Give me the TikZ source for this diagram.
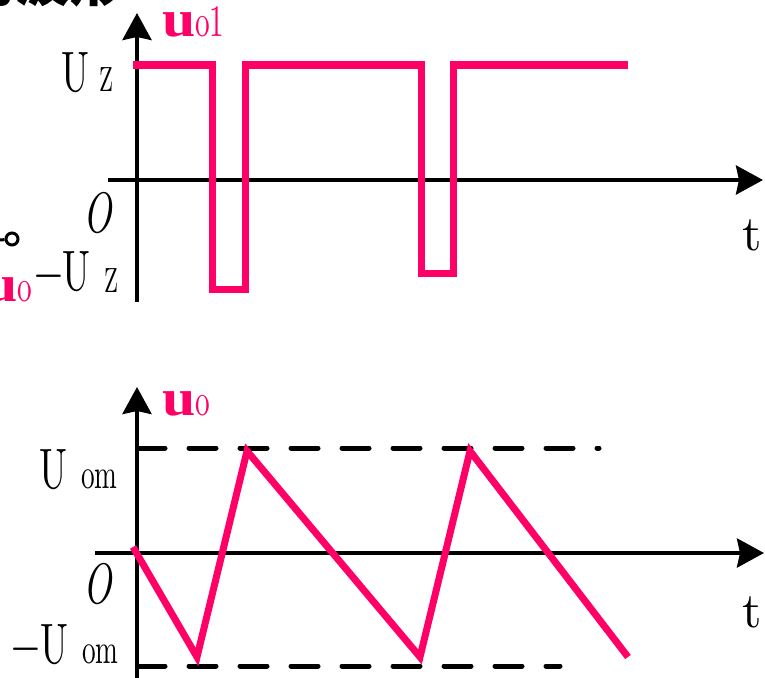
\documentclass[tikz,border=0pt]{standalone}
\usepackage{fontspec}
\usetikzlibrary{arrows.meta}
\newfontfamily\labfont[Extension=.otf, FakeStretch=0.65, ItalicFont=lmroman10-italic]{lmroman10-regular}
\newfontfamily\plainfont[Extension=.otf]{lmroman10-regular}
\newfontfamily\slabfont[FakeStretch=1.15]{Liberation Serif}
\newfontfamily\cjkfont{Noto Sans CJK SC}
\definecolor{wavepink}{HTML}{FF0066}
\definecolor{darkline}{HTML}{000000}
\newcommand{\fsz}[1]{\fontsize{#1}{#1}\selectfont}
\tikzset{
  axis/.style={draw=darkline, line width=4pt, -{Stealth[length=27pt, width=29pt, inset=3pt]}},
  wave/.style={draw=wavepink, line width=7pt, line join=miter},
  level/.style={draw=darkline, line width=5pt, line cap=round, dash pattern=on 27pt off 24pt},
  lab/.style={inner sep=0pt, outer sep=0pt, text=darkline, font=\labfont\fsz{57}},
  sublab/.style={lab, font=\labfont\fsz{35}},
  unitlab/.style={lab, font=\labfont\fsz{42}},
  tlab/.style={lab, font=\plainfont\fsz{50}},
  signame/.style={inner sep=0pt, outer sep=0pt, text=wavepink},
  terminal/.style={circle, draw=darkline, line width=3pt, minimum size=12pt, inner sep=0pt}
}
\newcommand{\signame}[2]{{\slabfont\bfseries\fsz{52}#1}{\labfont\fsz{45}#2}}

\begin{document}
\begin{tikzpicture}[x=1pt, y=-1pt]
\useasboundingbox (0,0) rectangle (765,677);

% Fragments of the page around the figure.
\node[anchor=base west, inner sep=0pt, font=\cjkfont\bfseries\fsz{55}] (title) at (-40,2) {的波形};
\node[terminal] (term) at (12,239) {};
\coordinate (termin) at (0,240);
\draw[darkline, line width=3pt] (termin) -- (term);
\node[signame, anchor=base west] (uoLeft) at (-16,301) {\signame{u}{o}};

% Upper plot: axes.
\coordinate (xa0) at (108,180);
\coordinate (xa1) at (763,180);
\coordinate (ya0) at (137,302);
\coordinate (ya1) at (137,13);
\draw[axis] (xa0) -- (xa1);
\draw[axis] (ya0) -- (ya1);

% Upper plot: labels.
\node[signame, anchor=base west] (uo1) at (162,37) {\signame{u}{o1}};
\node[lab, anchor=base west] (uzTop) at (61,91) {U};
\node[sublab, anchor=base west] (zTop) at (99,91) {Z};
\node[lab, anchor=base west] (originTop) at (83,232) {\itshape O};
\node[lab, anchor=base west] (uzBot) at (34,290) {−U};
\node[sublab, anchor=base west] (zBot) at (104,292) {Z};
\node[tlab, anchor=base west] (tTop) at (742,250) {t};

% Upper plot: square wave.
\draw[wave] (133,65) -- (212,65) -- (212,289) -- (245,289) -- (245,65)
  -- (421,65) -- (421,273) -- (453,273) -- (453,65) -- (628,65);

% Lower plot: axes and levels.
\coordinate (xb0) at (95,553);
\coordinate (xb1) at (764,553);
\coordinate (yb0) at (137,680);
\coordinate (yb1) at (137,387);
\draw[axis] (xb0) -- (xb1);
\draw[axis] (yb0) -- (yb1);
\coordinate (umL) at (138,448);
\coordinate (umR) at (599,448);
\coordinate (lmL) at (138,666);
\coordinate (lmR) at (560,666);
\draw[level] (umL) -- (umR);
\draw[level] (lmL) -- (lmR);

% Lower plot: labels.
\node[signame, anchor=base west] (uo) at (162,415) {\signame{u}{o}};
\node[lab, anchor=base west] (uom) at (39,488) {U};
\node[unitlab, anchor=base west] (omTop) at (81,488) {om};
\node[lab, anchor=base west] (originBot) at (83,603) {\itshape O};
\node[lab, anchor=base west] (muom) at (12,663) {−U};
\node[unitlab, anchor=base west] (omBot) at (82,663) {om};
\node[tlab, anchor=base west] (tBot) at (742,627) {t};

% Lower plot: triangle wave.
\draw[wave] (133,547) -- (197,657) -- (247,451) -- (420,657) -- (470,451) -- (628,657);

\end{tikzpicture}
\end{document}
